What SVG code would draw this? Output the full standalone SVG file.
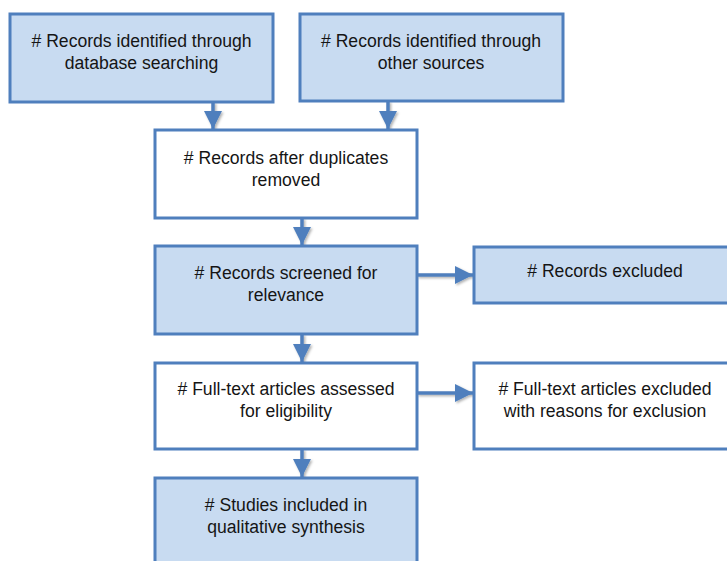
<svg xmlns="http://www.w3.org/2000/svg" width="727" height="561" viewBox="0 0 727 561">
<style>
  .box { stroke: #4f7fbd; stroke-width: 3; }
  .blue { fill: #c8dbf1; }
  .white { fill: #ffffff; }
  .lbl { font-family: "Liberation Sans", Arial, sans-serif; font-size: 17.6px; fill: #151515; text-anchor: middle; }
  .conn { stroke: #4f7fbd; stroke-width: 3.5; fill: none; marker-end: url(#ah); }
</style>
<defs>
  <marker id="ah" markerUnits="userSpaceOnUse" markerWidth="20" markerHeight="20" refX="18" refY="9" orient="auto">
    <path d="M0,0 L18,9 L0,18 z" fill="#4f7fbd"/>
  </marker>
  <filter id="sh" filterUnits="userSpaceOnUse" x="0" y="0" width="727" height="561">
    <feDropShadow dx="1.5" dy="1.5" stdDeviation="1.2" flood-color="#000" flood-opacity="0.3"/>
  </filter>
</defs>
<rect width="727" height="561" fill="#ffffff"/>

<g id="connectors" filter="url(#sh)">
  <line class="conn" x1="213" y1="102" x2="213" y2="129"/>
  <line class="conn" x1="388" y1="101" x2="388" y2="129"/>
  <line class="conn" x1="302" y1="218" x2="302" y2="245"/>
  <line class="conn" x1="417" y1="275" x2="473" y2="275"/>
  <line class="conn" x1="302" y1="334" x2="302" y2="362"/>
  <line class="conn" x1="417" y1="393" x2="473" y2="393"/>
  <line class="conn" x1="302" y1="449" x2="302" y2="477"/>
</g>

<g id="n1">
  <rect class="box blue" x="10" y="14" width="263" height="88"/>
  <text class="lbl"><tspan x="141.5" y="47"># Records identified through</tspan><tspan x="141.5" y="69">database searching</tspan></text>
</g>
<g id="n2">
  <rect class="box blue" x="300" y="14" width="263" height="87"/>
  <text class="lbl"><tspan x="431" y="47"># Records identified through</tspan><tspan x="431" y="69">other sources</tspan></text>
</g>
<g id="n3">
  <rect class="box white" x="155" y="130" width="262" height="88"/>
  <text class="lbl"><tspan x="286" y="164"># Records after duplicates</tspan><tspan x="286" y="186">removed</tspan></text>
</g>
<g id="n4">
  <rect class="box blue" x="155" y="246" width="262" height="88"/>
  <text class="lbl"><tspan x="286" y="279"># Records screened for</tspan><tspan x="286" y="301">relevance</tspan></text>
</g>
<g id="n5">
  <rect class="box blue" x="474" y="247" width="264" height="56"/>
  <text class="lbl"><tspan x="605" y="277"># Records excluded</tspan></text>
</g>
<g id="n6">
  <rect class="box white" x="155" y="363" width="262" height="86"/>
  <text class="lbl"><tspan x="286" y="395"># Full-text articles assessed</tspan><tspan x="286" y="417">for eligibility</tspan></text>
</g>
<g id="n7">
  <rect class="box white" x="474" y="363" width="264" height="86"/>
  <text class="lbl"><tspan x="605" y="395"># Full-text articles excluded</tspan><tspan x="605" y="417">with reasons for exclusion</tspan></text>
</g>
<g id="n8">
  <rect class="box blue" x="155" y="478" width="262" height="95"/>
  <text class="lbl"><tspan x="286" y="511"># Studies included in</tspan><tspan x="286" y="533">qualitative synthesis</tspan></text>
</g>
</svg>
